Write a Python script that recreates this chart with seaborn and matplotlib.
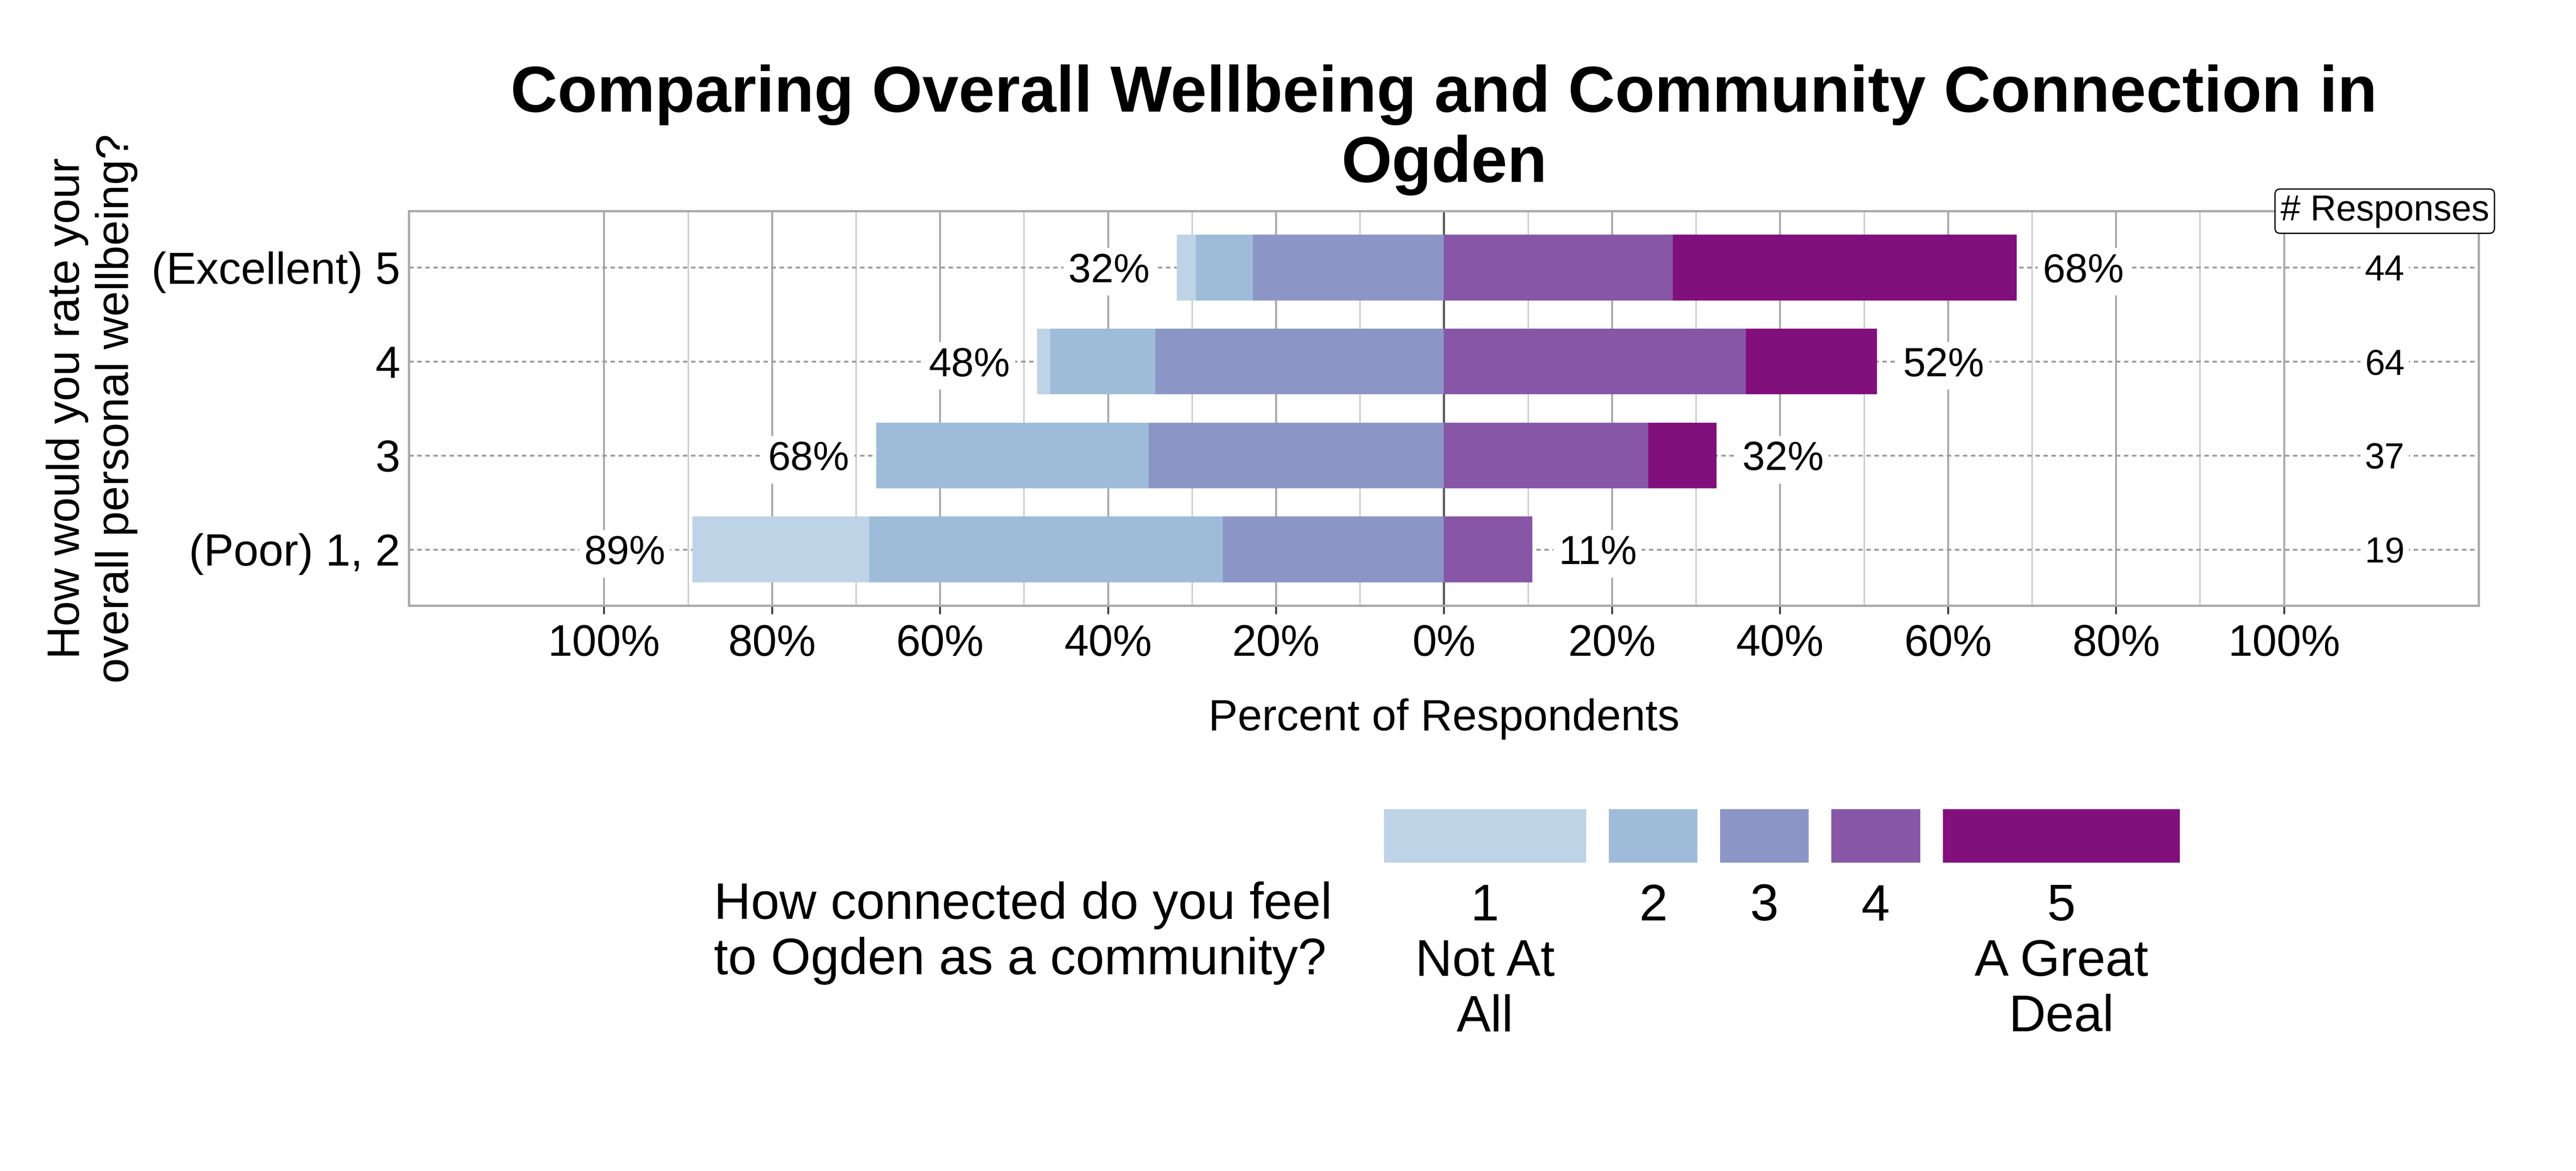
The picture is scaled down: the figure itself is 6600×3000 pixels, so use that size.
import numpy as np
import matplotlib
matplotlib.use('Agg')
import matplotlib.pyplot as plt
import matplotlib.transforms as mtransforms
import seaborn as sns

wellbeing_levels = ['(Excellent) 5', '4', '3', '(Poor) 1, 2']
connection_levels = ['1', '2', '3', '4', '5']
connection_names = ['Not At\nAll', '', '', '', 'A Great\nDeal']

# number of answers in each wellbeing group, one list per connection level
conn_1 = [1, 1, 0, 4]
conn_2 = [3, 8, 12, 8]
conn_3 = [10, 22, 13, 5]
conn_4 = [12, 23, 9, 2]
conn_5 = [18, 10, 3, 0]

colors = ['#bfd3e6', '#9ebcda', '#8c96c6', '#8856a7', '#810f7c']

counts = np.array([conn_1, conn_2, conn_3, conn_4, conn_5], dtype=float)
n_resp = counts.sum(axis=0)
pct = counts / n_resp * 100
neg_total = pct[:3].sum(axis=0)
pos_total = pct[3:].sum(axis=0)

sns.set_style('white')
plt.rcParams['font.family'] = ['Liberation Sans', 'DejaVu Sans']
plt.rcParams['text.color'] = 'black'
plt.rcParams['axes.labelcolor'] = 'black'
plt.rcParams['xtick.labelcolor'] = 'black'
plt.rcParams['ytick.labelcolor'] = 'black'

W, H = 6600, 3000
fig = plt.figure(figsize=(22, 10), dpi=300)
ax = fig.add_axes([1048 / W, 1 - 1552 / H, (6351 - 1048) / W, (1552 - 541) / H])

# diverging stacked bars: draw the outer totals first, inner segments on top
layers = [
    (-pct[0:3].sum(axis=0), colors[0]),
    (-pct[1:3].sum(axis=0), colors[1]),
    (-pct[2], colors[2]),
    (pct[3:5].sum(axis=0), colors[4]),
    (pct[3], colors[3]),
]
for vals, c in layers:
    sns.barplot(x=vals, y=wellbeing_levels, orient='h', color=c, width=0.7,
                saturation=1, errorbar=None, linewidth=0, ax=ax)

ax.set_xlim(-123.2, 123.2)
ax.set_ylim(3.6, -0.6)
major = np.arange(-100, 101, 20)
ax.set_xticks(major)
ax.set_xticklabels([f'{abs(t)}%' for t in major])
ax.set_xticks(np.arange(-90, 91, 20), minor=True)

ax.set_axisbelow(True)
ax.grid(axis='x', which='major', color='#aaaaaa', lw=1.2)
ax.grid(axis='x', which='minor', color='#c4c4c4', lw=0.75)
ax.grid(axis='y', which='major', color='#999999', lw=1.1, linestyle=(0, (2.5, 2)))
ax.axvline(0, color='#555555', lw=1.3, zorder=0.6)

for s in ax.spines.values():
    s.set_visible(True)
    s.set_color('#aaaaaa')
    s.set_linewidth(1.4)

ax.tick_params(axis='x', which='major', bottom=True, direction='out', length=5,
               width=1.1, color='#333333', labelcolor='black', labelsize=27, pad=6)
ax.tick_params(axis='x', which='minor', length=0)
ax.tick_params(axis='y', length=0, labelsize=27.5, pad=5.5, labelcolor='black')

box = dict(boxstyle='square,pad=0.12', fc='white', ec='none')
for i in range(len(wellbeing_levels)):
    ax.text(-neg_total[i] - 3.2, i, f'{round(neg_total[i])}%', ha='right',
            va='center_baseline', fontsize=25, bbox=box)
    ax.text(pos_total[i] + 3.1, i, f'{round(pos_total[i])}%', ha='left',
            va='center_baseline', fontsize=25, bbox=box)
    ax.text(112, i, f'{int(n_resp[i])}', ha='center', va='center_baseline',
            fontsize=22, bbox=box)

trans = mtransforms.blended_transform_factory(ax.transData, ax.transAxes)
ax.text(112, 1.0, '# Responses', transform=trans, ha='center', va='center',
        fontsize=22, clip_on=False, zorder=5,
        bbox=dict(boxstyle='round,pad=0.15', fc='white', ec='black', lw=0.8))

ax.set_title('Comparing Overall Wellbeing and Community Connection in\nOgden',
             fontsize=40, fontweight='bold', pad=18, color='black')
ax.set_ylabel('How would you rate your\noverall personal wellbeing?', fontsize=28)
ax.yaxis.set_label_coords(-0.131, 0.5)
ax.set_xlabel('Percent of Respondents', fontsize=27)
ax.xaxis.set_label_coords(0.5, -0.234)

# legend drawn as its own strip of patches
leg_widths = [518, 227, 227, 228, 607]
gap = 58
lefts = np.concatenate([[0], np.cumsum(np.array(leg_widths[:-1]) + gap)])
lax = fig.add_axes([3546 / W, 1 - 2210 / H, 2040 / W, 137 / H])
lax.barh(0, leg_widths, left=lefts, height=1, color=colors, linewidth=0)
lax.set_xlim(0, 2040)
lax.set_ylim(-0.5, 0.5)
lax.axis('off')
for i, lvl in enumerate(connection_levels):
    lab = lvl + ('\n' + connection_names[i] if connection_names[i] else '')
    fig.text((3546 + lefts[i] + leg_widths[i] / 2) / W, 1 - 2262 / H, lab,
             ha='center', va='top', fontsize=31.5)
fig.text(3413 / W, 1 - 2258 / H, 'How connected do you feel\nto Ogden as a community?',
         ha='right', va='top', multialignment='left', fontsize=31.5)

fig.savefig('out.png', dpi=300)
